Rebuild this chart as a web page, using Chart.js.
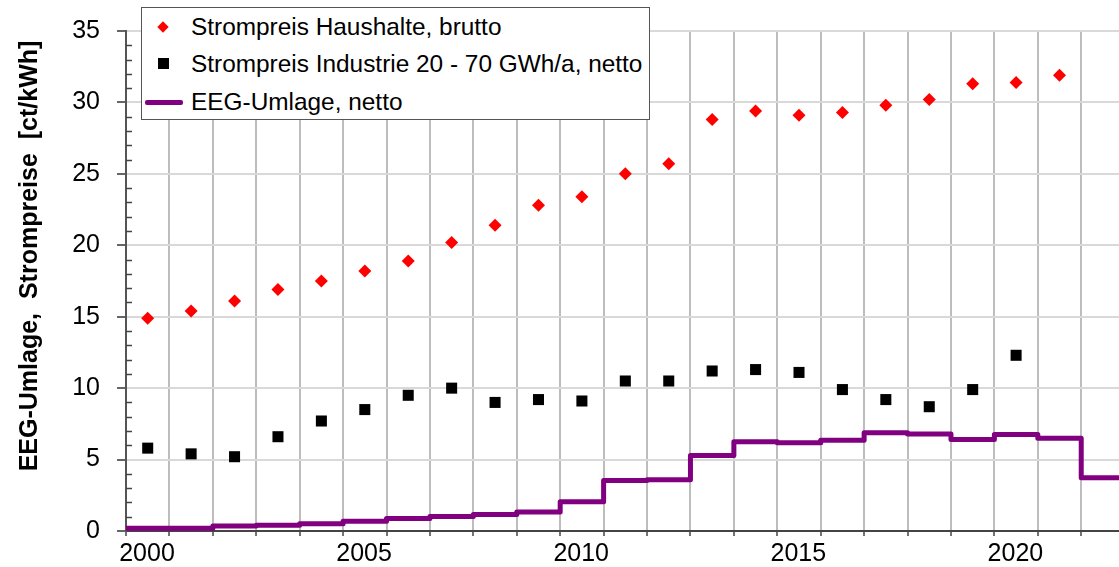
<!DOCTYPE html>
<html>
<head>
<meta charset="utf-8">
<script src="https://cdn.jsdelivr.net/npm/chart.js@4"></script>
<style>
  body { margin: 0; background: #fff; overflow: hidden; }
  #wrap { position: relative; width: 1119px; height: 567px; }
  #legend {
    position: absolute; left: 141px; top: 7px; width: 509px; height: 113px;
    box-sizing: border-box; border: 1.5px solid #555; background: #fff;
    font-family: "Liberation Sans", Arial, sans-serif; font-size: 24.4px; color: #000;
  }
  .row { position: relative; height: 37.5px; }
  .row span.txt { position: absolute; left: 49px; top: 50%; transform: translateY(-50%); white-space: pre; }
  .mk { position: absolute; top: 50%; }
</style>
</head>
<body>
<div id="wrap">
  <canvas id="chart" width="1119" height="567"></canvas>
  <div id="legend"></div>
</div>
<script>
// ---------- DATA ----------
const seriesNames = ["Strompreis Haushalte, brutto", "Strompreis Industrie 20 - 70 GWh/a, netto", "EEG-Umlage, netto"];
const yTitle = "EEG-Umlage,  Strompreise  [ct/kWh]";

const haushaltYears = [2000, 2001, 2002, 2003, 2004, 2005, 2006, 2007, 2008, 2009, 2010,
                       2011, 2012, 2013, 2014, 2015, 2016, 2017, 2018, 2019, 2020, 2021];
const haushalte = [14.9, 15.4, 16.1, 16.9, 17.5, 18.2, 18.9, 20.2, 21.4, 22.8, 23.4,
                   25.0, 25.7, 28.8, 29.4, 29.1, 29.3, 29.8, 30.2, 31.3, 31.4, 31.9];

const industrieYears = [2000, 2001, 2002, 2003, 2004, 2005, 2006, 2007, 2008, 2009, 2010,
                        2011, 2012, 2013, 2014, 2015, 2016, 2017, 2018, 2019, 2020];
const industrie = [5.8, 5.4, 5.2, 6.6, 7.7, 8.5, 9.5, 10.0, 9.0, 9.2, 9.1,
                   10.5, 10.5, 11.2, 11.3, 11.1, 9.9, 9.2, 8.7, 9.9, 12.3];

// EEG levy, each value valid from Jan 1 of its year
const eegYears = [2000, 2001, 2002, 2003, 2004, 2005, 2006, 2007, 2008, 2009, 2010, 2011,
                  2012, 2013, 2014, 2015, 2016, 2017, 2018, 2019, 2020, 2021, 2022, 2023];
const eeg = [0.2, 0.2, 0.35, 0.41, 0.51, 0.69, 0.88, 1.02, 1.16, 1.33, 2.05, 3.53,
             3.59, 5.28, 6.24, 6.17, 6.35, 6.88, 6.79, 6.41, 6.76, 6.5, 3.72, 3.72];

const gridYears = [2000, 2001, 2002, 2003, 2004, 2005, 2006, 2007, 2008, 2009, 2010, 2011,
                   2012, 2013, 2014, 2015, 2016, 2017, 2018, 2019, 2020, 2021, 2022];
const xTickLabels = ["2000", "2005", "2010", "2015", "2020"];

const colors = ["#ff0000", "#000000", "#800080"];
const FONT = "'Liberation Sans', Arial, sans-serif";

// ---------- LEGEND (html) ----------
function buildLegend() {
  const box = document.getElementById("legend");
  const markers = [
    `<div class="mk" style="left:17px;width:8px;height:8px;margin-top:-4px;background:${colors[0]};transform:rotate(45deg)"></div>`,
    `<div class="mk" style="left:16px;width:11px;height:11px;margin-top:-6px;background:${colors[1]}"></div>`,
    `<div class="mk" style="left:3px;width:38px;height:5px;margin-top:-2px;border-radius:2px;background:${colors[2]}"></div>`
  ];
  seriesNames.forEach((name, i) => {
    const row = document.createElement("div");
    row.className = "row";
    row.innerHTML = markers[i] + `<span class="txt">${name}</span>`;
    box.appendChild(row);
  });
}

// ---------- PLUGINS ----------
const extras = {
  id: "extras",
  afterDraw(chart) {
    const ctx = chart.ctx;
    const y = chart.scales.y;
    const area = chart.chartArea;
    // minor ticks inside the plot
    ctx.save();
    ctx.strokeStyle = "#444";
    ctx.lineWidth = 1.5;
    for (let v = 0; v <= 35; v++) {
      if (v % 5 === 0) continue;
      const py = Math.round(y.getPixelForValue(v)) + 0.5;
      ctx.beginPath();
      ctx.moveTo(area.left, py);
      ctx.lineTo(area.left + 6, py);
      ctx.stroke();
    }
    // axis title
    ctx.translate(37, 256);
    ctx.rotate(-Math.PI / 2);
    ctx.font = "bold 25px " + FONT;
    ctx.fillStyle = "#000";
    ctx.textAlign = "center";
    ctx.textBaseline = "alphabetic";
    ctx.fillText(yTitle, 0, 0);
    ctx.restore();
  }
};

// ---------- CHART ----------
function drawChart() {
  const ctx = document.getElementById("chart").getContext("2d");
  new Chart(ctx, {
    type: "scatter",
    data: {
      datasets: [
        {
          label: seriesNames[0],
          data: haushaltYears.map((yr, i) => ({ x: yr + 0.5, y: haushalte[i] })),
          pointStyle: "rectRot",
          pointRadius: 6.5,
          backgroundColor: colors[0],
          borderWidth: 0
        },
        {
          label: seriesNames[1],
          data: industrieYears.map((yr, i) => ({ x: yr + 0.5, y: industrie[i] })),
          pointStyle: "rect",
          pointRadius: 7.8,
          backgroundColor: colors[1],
          borderWidth: 0
        },
        {
          label: seriesNames[2],
          data: eegYears.map((yr, i) => ({ x: yr, y: eeg[i] })),
          showLine: true,
          stepped: "before",
          pointRadius: 0,
          borderColor: colors[2],
          borderWidth: 5,
          borderJoinStyle: "round"
        }
      ]
    },
    options: {
      responsive: false,
      animation: false,
      layout: { autoPadding: false, padding: { top: 31, right: 0, bottom: 0, left: 0 } },
      plugins: { legend: { display: false }, tooltip: { enabled: false } },
      scales: {
        x: {
          type: "linear",
          min: 2000,
          max: 2022.87,
          afterFit: (axis) => {
            axis.height = 36;
            axis.paddingLeft = 0;
            axis.paddingRight = 0;
          },
          afterBuildTicks: (axis) => { axis.ticks = gridYears.map(v => ({ value: v })); },
          grid: { color: "#bdbdbd", lineWidth: 2, tickLength: 5, tickColor: "#444", tickWidth: 1.5 },
          border: { color: "#444", width: 2 },
          ticks: {
            autoSkip: false,
            maxRotation: 0,
            labelOffset: 21,
            padding: 3,
            color: "#000",
            font: { family: FONT, size: 25 },
            callback: (v) => xTickLabels.includes(String(v)) ? String(v) : ""
          }
        },
        y: {
          min: 0,
          max: 35,
          afterFit: (axis) => {
            axis.width = 126;
            axis.paddingTop = 0;
            axis.paddingBottom = 0;
          },
          grid: { color: "#d9d9d9", lineWidth: 2, tickLength: 9, tickColor: "#333", tickWidth: 1.5 },
          border: { color: "#555", width: 2 },
          ticks: {
            stepSize: 5,
            padding: 17,
            color: "#000",
            font: { family: FONT, size: 25 }
          }
        }
      }
    },
    plugins: [extras]
  });
}

// ---------- INIT ----------
buildLegend();
drawChart();
</script>
</body>
</html>
